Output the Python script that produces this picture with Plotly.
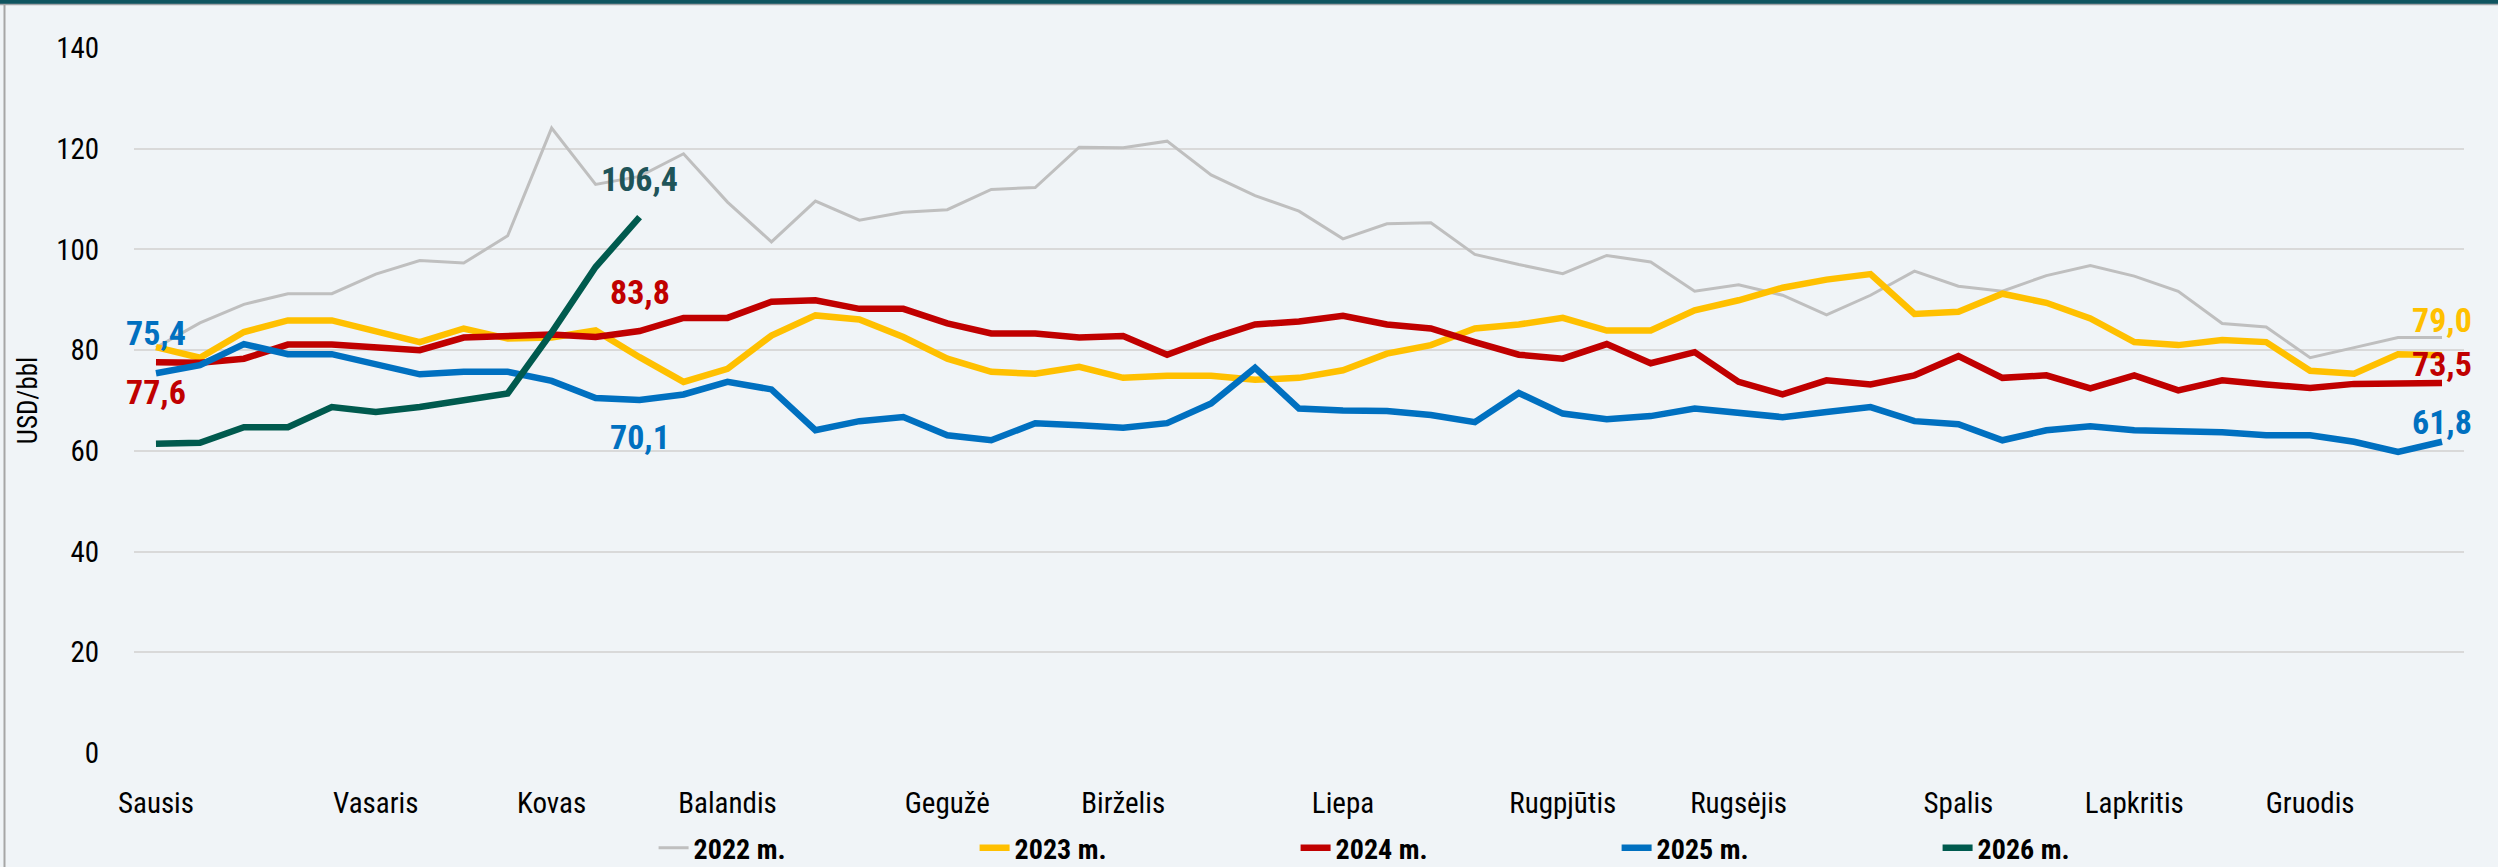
import plotly.graph_objects as go

weeks = list(range(53))
month_pos = [0, 5, 9, 13, 18, 22, 27, 32, 36, 41, 45, 49]
month_labels = ["Sausis", "Vasaris", "Kovas", "Balandis", "Gegužė", "Birželis",
                "Liepa", "Rugpjūtis", "Rugsėjis", "Spalis", "Lapkritis", "Gruodis"]

y2022 = [80.5, 85.4, 89.1, 91.2, 91.2, 95.1, 97.8, 97.3, 102.7, 124.1, 112.9, 114.5, 119.0,
         109.4, 101.5, 109.6, 105.8, 107.4, 107.9, 111.9, 112.3, 120.3, 120.2, 121.5, 114.8,
         110.7, 107.6, 102.1, 105.1, 105.3, 99.0, 97.0, 95.2, 98.8, 97.5, 91.7, 93.0, 90.9,
         87.0, 90.9, 95.7, 92.7, 91.7, 94.8, 96.8, 94.7, 91.7, 85.3, 84.6, 78.5, 80.5, 82.5, 82.5]
y2023 = [80.6, 78.5, 83.6, 85.9, 85.9, 83.9, 81.6, 84.3, 82.3, 82.5, 83.9, 78.6, 73.7,
         76.3, 82.9, 86.9, 86.1, 82.6, 78.3, 75.7, 75.3, 76.7, 74.5, 74.9, 74.9, 74.1, 74.5,
         76.0, 79.3, 81.0, 84.3, 85.1, 86.4, 83.9, 83.9, 87.9, 89.9, 92.4, 94.0, 95.1, 87.2,
         87.6, 91.2, 89.4, 86.3, 81.6, 81.0, 82.0, 81.6, 75.9, 75.3, 79.2, 79.0]
y2024 = [77.6, 77.5, 78.3, 81.1, 81.1, 80.6, 80.0, 82.5, 82.8, 83.1, 82.6, 83.8, 86.4,
         86.4, 89.6, 89.9, 88.2, 88.2, 85.3, 83.3, 83.3, 82.5, 82.8, 79.1, 82.3, 85.1, 85.7,
         86.8, 85.1, 84.3, 81.6, 79.1, 78.3, 81.2, 77.4, 79.6, 73.7, 71.2, 74.0, 73.2, 75.0,
         78.8, 74.5, 75.0, 72.4, 75.0, 72.0, 74.0, 73.2, 72.5, 73.3, 73.5, 73.5]
y2025 = [75.4, 77.0, 81.2, 79.2, 79.2, 77.1, 75.2, 75.7, 75.7, 73.9, 70.5, 70.1, 71.2,
         73.7, 72.2, 64.1, 65.9, 66.7, 63.1, 62.1, 65.5, 65.1, 64.6, 65.5, 69.4, 76.5, 68.4,
         68.0, 67.9, 67.1, 65.7, 71.5, 67.4, 66.3, 66.9, 68.4, 67.6, 66.7, 67.7, 68.7, 65.9,
         65.3, 62.1, 64.1, 64.9, 64.1, 63.9, 63.7, 63.1, 63.1, 61.8, 59.8, 61.8]
y2026 = [61.4, 61.6, 64.7, 64.7, 68.7, 67.7, 68.7, 70.2, 71.4, 83.5, 96.5, 106.4]

series = [
    ("2022 m.", y2022, "#BFBFBF", 3),
    ("2023 m.", y2023, "#FFC000", 6.5),
    ("2024 m.", y2024, "#C00000", 6.5),
    ("2025 m.", y2025, "#0070C0", 6.5),
    ("2026 m.", y2026, "#005A4E", 6.5),
]

FONT = "Liberation Sans Narrow, Arial Narrow, Roboto Condensed, Liberation Sans, sans-serif"

fig = go.Figure()
for name, ys, col, w in series:
    fig.add_trace(go.Scatter(
        x=weeks[:len(ys)], y=ys, mode="lines", name=name,
        line=dict(color=col, width=w, shape="linear"),
    ))

# data labels: (week index, series values, color, vertical shift px)
labels = [
    (0, y2025, "#0070C0", 40),
    (0, y2024, "#C00000", -30),
    (11, y2026, "#1F5459", 38),
    (11, y2024, "#C00000", 39),
    (11, y2025, "#0070C0", -37),
    (52, y2023, "#FFC000", 35),
    (52, y2024, "#C00000", 19),
    (52, y2025, "#0070C0", 20),
]
for xi, ys, col, shift in labels:
    fig.add_annotation(
        x=xi, y=ys[xi], xref="x", yref="y", showarrow=False,
        text=f"{ys[xi]:.1f}".replace(".", ","), yshift=shift,
        font=dict(family=FONT, size=34, color=col, weight="bold"),
    )

L, R, T, B = 134, 34, 48, 114
W, H = 2498, 867
pw = W - L - R
ph = H - T - B

# top dark bar and thin grey line, left grey border
fig.add_shape(type="rect", xref="paper", yref="paper",
              x0=-L / pw, x1=(W - L) / pw, y0=1 + (T - 4) / ph, y1=1 + T / ph + 0.01,
              fillcolor="#0F5560", line_width=0, layer="above")
fig.add_shape(type="line", xref="paper", yref="paper",
              x0=-L / pw, x1=(W - L) / pw, y0=1 + (T - 4.5) / ph, y1=1 + (T - 4.5) / ph,
              line=dict(color="#A0A4A8", width=1.5))
fig.add_shape(type="line", xref="paper", yref="paper",
              x0=-(L - 4.5) / pw, x1=-(L - 4.5) / pw, y0=-B / ph, y1=1 + (T - 4) / ph,
              line=dict(color="#A6A6A6", width=2))

fig.update_layout(
    width=W, height=H,
    margin=dict(l=L, r=R, t=T, b=B, autoexpand=False),
    paper_bgcolor="#F0F4F7", plot_bgcolor="#F0F4F7",
    font=dict(family=FONT, size=29, color="#000000"),
    showlegend=True,
    legend=dict(orientation="h", x=0.223, xanchor="left", y=-0.135, yanchor="middle",
                entrywidth=276, entrywidthmode="pixels",
                font=dict(family=FONT, size=28, color="#000000", weight="bold"),
                bgcolor="rgba(0,0,0,0)", itemclick=False),
    xaxis=dict(range=[-0.5, 52.5], tickmode="array", tickvals=month_pos, ticktext=month_labels,
               showgrid=False, zeroline=False, showline=False, ticks="outside",
               ticklen=24, tickcolor="rgba(0,0,0,0)", automargin=False,
               tickfont=dict(family=FONT, size=29, color="#000000")),
    yaxis=dict(range=[0, 140], tick0=0, dtick=20, showgrid=True, gridcolor="#D9D9D9",
               gridwidth=2, zeroline=False, showline=False, ticks="outside", ticklen=28,
               tickcolor="rgba(0,0,0,0)", automargin=False,
               tickfont=dict(family=FONT, size=29, color="#000000"),
               title=dict(text="USD/bbl", standoff=10,
                          font=dict(family=FONT, size=27, color="#000000"))),
)

fig.write_html("out.html", config={"displayModeBar": False},
               post_script="document.body.style.margin='0';document.body.style.overflow='hidden';")
